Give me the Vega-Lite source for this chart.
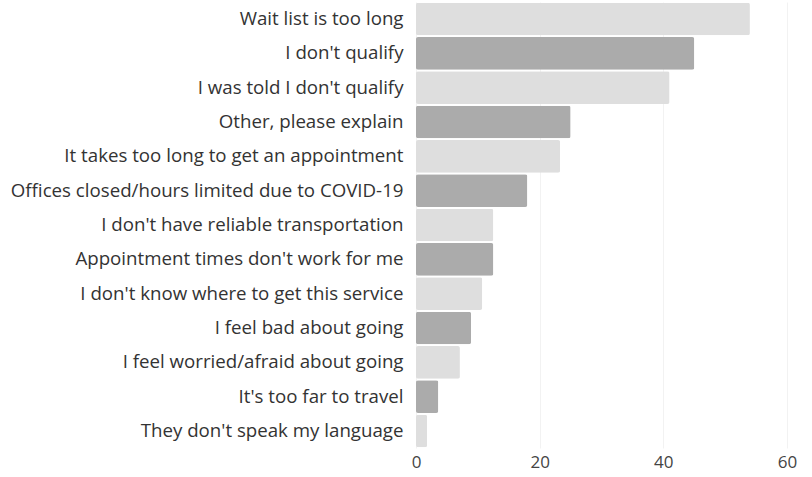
{
  "$schema": "https://vega.github.io/schema/vega-lite/v6.json",
  "autosize": "none",
  "width": 371,
  "height": 446,
  "padding": {"left": 416, "top": 2, "right": 25, "bottom": 29},
  "background": "white",
  "config": {"view": {"stroke": null}, "font": "Open Sans"},
  "data": {"values": [
    {"reason": "Wait list is too long", "value": 54},
    {"reason": "I don't qualify", "value": 45},
    {"reason": "I was told I don't qualify", "value": 41},
    {"reason": "Other, please explain", "value": 25},
    {"reason": "It takes too long to get an appointment", "value": 23.3},
    {"reason": "Offices closed/hours limited due to COVID-19", "value": 18},
    {"reason": "I don't have reliable transportation", "value": 12.5},
    {"reason": "Appointment times don't work for me", "value": 12.5},
    {"reason": "I don't know where to get this service", "value": 10.7},
    {"reason": "I feel bad about going", "value": 8.9},
    {"reason": "I feel worried/afraid about going", "value": 7.1},
    {"reason": "It's too far to travel", "value": 3.6},
    {"reason": "They don't speak my language", "value": 1.8}
  ]},
  "mark": {"type": "bar", "cornerRadius": 2},
  "encoding": {
    "y": {
      "field": "reason", "type": "nominal", "sort": null,
      "scale": {"paddingInner": 0.05, "paddingOuter": 0.02},
      "axis": {"title": null, "domain": false, "ticks": false, "labelPadding": 13,
               "labelFontSize": 18.7, "labelColor": "#333333", "labelLimit": 500}
    },
    "x": {
      "field": "value", "type": "quantitative",
      "scale": {"domain": [0, 60], "nice": false},
      "axis": {"title": null, "domain": false, "ticks": false, "values": [0, 20, 40, 60],
               "labelFontSize": 17, "labelColor": "#444444", "labelPadding": 6, "labelFlush": false,
               "grid": true, "gridColor": "#f2f2f2", "gridWidth": 1}
    },
    "color": {
      "field": "reason", "type": "nominal", "sort": null, "legend": null,
      "scale": {"range": ["#dedede", "#ababab"]}
    }
  }
}
